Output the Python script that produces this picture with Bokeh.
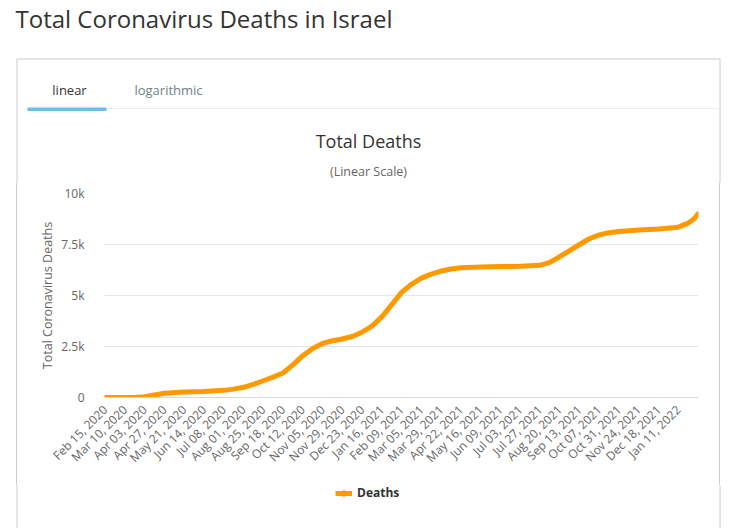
import math
from datetime import datetime
from bokeh.plotting import figure
from bokeh.layouts import column, row
from bokeh.models import (Label, BoxAnnotation, FixedTicker, DatetimeTickFormatter,
                          Range1d, Legend, LegendItem, Spacer)
from bokeh.embed import file_html
from bokeh.resources import INLINE

# ---- data ----
dates = ["2020-02-15", "2020-03-10", "2020-03-22", "2020-04-03", "2020-04-15", "2020-04-27",
         "2020-05-21", "2020-06-14", "2020-07-08", "2020-07-20", "2020-08-01", "2020-08-13",
         "2020-08-25", "2020-09-06", "2020-09-18", "2020-09-30", "2020-10-12", "2020-10-24",
         "2020-11-05", "2020-11-17", "2020-11-29", "2020-12-11", "2020-12-23", "2021-01-04",
         "2021-01-16", "2021-01-28", "2021-02-09", "2021-02-21", "2021-03-05", "2021-03-17",
         "2021-03-29", "2021-04-10", "2021-04-22", "2021-05-16", "2021-06-09", "2021-07-03",
         "2021-07-27", "2021-08-08", "2021-08-20", "2021-09-01", "2021-09-13", "2021-09-25",
         "2021-10-07", "2021-10-19", "2021-10-31", "2021-11-24", "2021-12-18", "2022-01-11",
         "2022-01-23", "2022-01-30", "2022-02-04"]
deaths = [0, 0, 5, 40, 120, 210,
          275, 300, 350, 410, 500, 640,
          820, 1000, 1200, 1600, 2050, 2400,
          2650, 2780, 2870, 2990, 3200, 3500,
          3950, 4550, 5150, 5550, 5850, 6050,
          6200, 6300, 6360, 6400, 6420, 6430,
          6480, 6620, 6900, 7200, 7500, 7780,
          7970, 8080, 8140, 8210, 8260, 8350,
          8550, 8750, 9000]
tick_dates = ["2020-02-15", "2020-03-10", "2020-04-03", "2020-04-27", "2020-05-21", "2020-06-14",
              "2020-07-08", "2020-08-01", "2020-08-25", "2020-09-18", "2020-10-12", "2020-11-05",
              "2020-11-29", "2020-12-23", "2021-01-16", "2021-02-09", "2021-03-05", "2021-03-29",
              "2021-04-22", "2021-05-16", "2021-06-09", "2021-07-03", "2021-07-27", "2021-08-20",
              "2021-09-13", "2021-10-07", "2021-10-31", "2021-11-24", "2021-12-18", "2022-01-11"]
y_ticks = [0, 2500, 5000, 7500, 10000]
y_tick_labels = ["0", "2.5k", "5k", "7.5k", "10k"]

page_title = "Total Coronavirus Deaths in Israel"
chart_title = "Total Deaths"
chart_subtitle = "(Linear Scale)"
tab_labels = ["linear", "logarithmic"]
y_axis_title = "Total Coronavirus Deaths"
series_name = "Deaths"

FONT = "Open Sans"
ORANGE = "#FF9900"
BORDER = "#cccccc"

W = 745
H_HEAD, H_MAIN, H_FOOT = 183, 302, 43
BOX_L, BOX_R, BOX_T = 16, 719, 58


def ms(s):
    return datetime.strptime(s, "%Y-%m-%d").timestamp() * 1000.0


def blank(width, height, xr, yr):
    f = figure(width=width, height=height, x_range=xr, y_range=yr, output_backend="svg",
               toolbar_location=None, x_axis_location=None, y_axis_location=None,
               min_border=0)
    f.outline_line_color = None
    f.grid.visible = False
    f.background_fill_color = "white"
    f.border_fill_color = "white"
    return f


def lab(f, text, x, y, size, color, align="left", style="normal"):
    f.add_layout(Label(x=x, y=y, text=text, text_font=FONT, text_font_size=size,
                       text_color=color, text_align=align, text_baseline="middle",
                       text_font_style=style))


def box(f, **kw):
    f.add_layout(BoxAnnotation(**kw))


# ---------------- header (page title, box top, tabs, chart titles) ----------------
head = blank(W, H_HEAD, Range1d(0, W), Range1d(H_HEAD, 0))
box(head, left=BOX_L + 0.5, right=BOX_R + 0.5, top=BOX_T + 0.5, bottom=H_HEAD + 50,
    fill_alpha=0, line_color=BORDER, line_alpha=1, line_width=1)
box(head, left=106, right=BOX_R, top=107.5, bottom=108.5,
    fill_color="#ececec", fill_alpha=1, line_color=None)
box(head, left=27, right=106, top=107, bottom=110.5,
    fill_color="#6cbde9", fill_alpha=1, line_color=None)
lab(head, page_title, 15, 18, "24px", "#333333")
lab(head, tab_labels[0], 69, 89, "13px", "#333333", align="center")
lab(head, tab_labels[1], 168, 89, "13px", "#6e8585", align="center")
lab(head, chart_title, 368, 140, "18px", "#333333", align="center")
lab(head, chart_subtitle, 368, 171, "12.5px", "#666666", align="center")

# ---------------- main chart ----------------
OFF_Y = H_HEAD
main_w = BOX_R - (BOX_L + 1)          # from x=17 to x=719
FL, FR, FT, FB = 104, 698, 193, 397   # frame edges on page
DAY = 86400000.0
xs = [datetime.strptime(d, "%Y-%m-%d") for d in dates]

p = figure(width=main_w, height=H_MAIN, x_axis_type="datetime", output_backend="svg",
           toolbar_location=None,
           x_range=Range1d(ms("2020-02-15") - 0.8 * DAY, ms("2022-02-04") + 0.5 * DAY),
           y_range=Range1d(0, 10000),
           min_border_left=FL - (BOX_L + 1), min_border_right=BOX_R - FR,
           min_border_top=FT - OFF_Y, min_border_bottom=OFF_Y + H_MAIN - FB)
p.outline_line_color = None
p.background_fill_color = "white"
p.border_fill_color = "white"

line = p.line(xs, deaths, line_color=ORANGE, line_width=5, line_cap="round", line_join="round")

p.xaxis.ticker = FixedTicker(ticks=[ms(d) for d in tick_dates])
fmt = "%b %d, %Y"
p.xaxis.formatter = DatetimeTickFormatter(milliseconds=fmt, seconds=fmt, minsec=fmt, minutes=fmt,
                                          hourmin=fmt, hours=fmt, days=fmt, months=fmt, years=fmt)
p.xaxis.major_label_orientation = math.pi / 4
p.xaxis.axis_line_color = "#d8d8d8"
p.xaxis.major_tick_line_color = None
p.xaxis.minor_tick_line_color = None
p.xaxis.major_label_text_font = FONT
p.xaxis.major_label_text_font_size = "12px"
p.xaxis.major_label_text_color = "#666666"
p.xaxis.major_label_standoff = 4

p.yaxis.ticker = FixedTicker(ticks=y_ticks)
p.yaxis.major_label_overrides = {t: l for t, l in zip(y_ticks, y_tick_labels)}
p.yaxis.axis_line_color = None
p.yaxis.major_tick_line_color = None
p.yaxis.minor_tick_line_color = None
p.yaxis.major_label_text_font = FONT
p.yaxis.major_label_text_font_size = "12px"
p.yaxis.major_label_text_color = "#666666"
p.yaxis.major_label_standoff = 14
p.yaxis.axis_label = y_axis_title
p.yaxis.axis_label_text_font = FONT
p.yaxis.axis_label_text_font_size = "12.5px"
p.yaxis.axis_label_text_font_style = "normal"
p.yaxis.axis_label_text_color = "#666666"
p.yaxis.axis_label_standoff = 2

p.xgrid.grid_line_color = None
p.ygrid.grid_line_color = "#e6e6e6"

# side strips carrying the box's left and right borders
left_side = row(Spacer(width=BOX_L, height=H_MAIN),
                Spacer(width=1, height=H_MAIN, styles={"background-color": BORDER}))
right_side = row(Spacer(width=1, height=H_MAIN, styles={"background-color": BORDER}),
                 Spacer(width=W - BOX_R - 1, height=H_MAIN))

# ---------------- footer (legend) ----------------
y0 = H_HEAD + H_MAIN
foot = blank(W, H_FOOT, Range1d(0, W), Range1d(y0 + H_FOOT, y0))
box(foot, left=BOX_L + 0.5, right=BOX_R + 0.5, top=y0 - 50, bottom=y0 + H_FOOT + 50,
    fill_alpha=0, line_color=BORDER, line_alpha=1, line_width=1)
# legend sample renderers carry the series itself; its values lie outside this strip's ranges
leg_line = foot.line(xs, deaths, line_color=ORANGE, line_width=5)
leg_mark = foot.scatter(xs, deaths, size=8, marker="circle", fill_color=ORANGE, line_color=ORANGE)
legend = Legend(items=[LegendItem(label=series_name, renderers=[leg_line, leg_mark])],
                location=(335, 27), orientation="horizontal",
                padding=0, margin=0, border_line_color=None, background_fill_alpha=0,
                glyph_width=17, glyph_height=14, label_standoff=5,
                label_text_font=FONT, label_text_font_size="12px",
                label_text_font_style="bold", label_text_color="#333333")
foot.add_layout(legend)

layout = column(head, row(left_side, p, right_side), foot)

open("out.html", "w").write(file_html(layout, INLINE))
